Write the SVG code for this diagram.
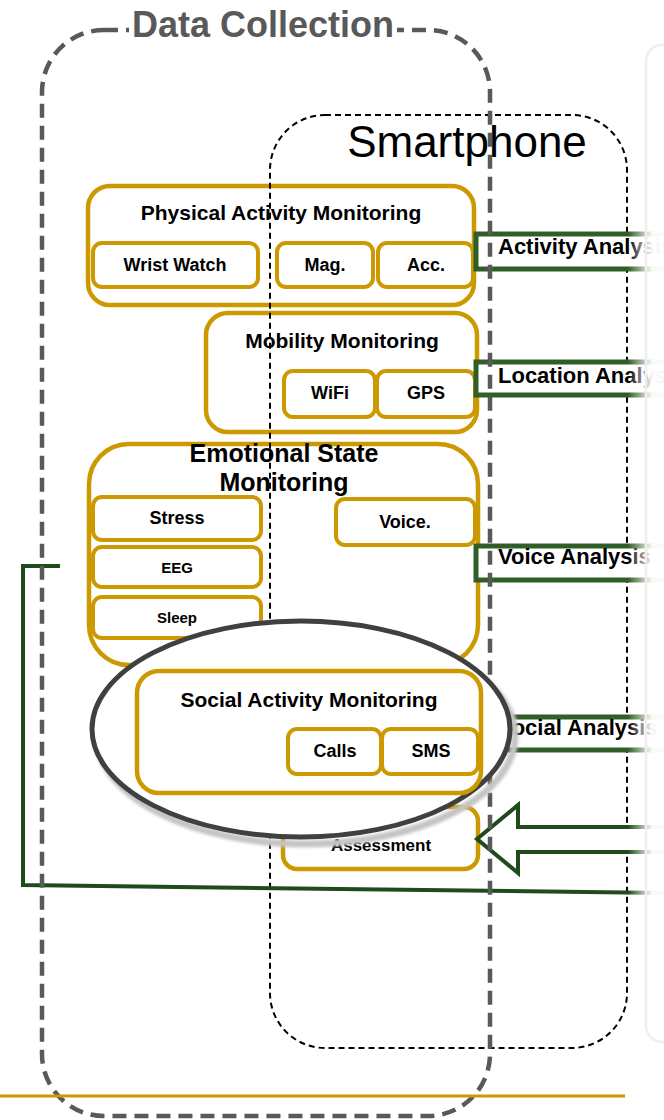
<svg xmlns="http://www.w3.org/2000/svg" width="664" height="1120" viewBox="0 0 664 1120">
  <style>
    text { font-family: "Liberation Sans", Arial, sans-serif; font-weight: bold; fill: #000; }
    .mid { text-anchor: middle; }
    .gold { fill: #fff; stroke: #CC9900; stroke-width: 4.5; }
    .goldsub { fill: #fff; stroke: #CC9900; stroke-width: 4; }
    .green { fill: #fff; stroke: #2F5F26; stroke-width: 5; }
    .flow { fill: none; stroke: #1F4A1C; stroke-width: 4; }
    .sub { font-size: 18px; }
    .small { font-size: 15px; }
    .title { font-size: 21px; }
    .ana { font-size: 22px; }
  </style>
  <defs>
    <linearGradient id="fade" x1="628" y1="0" x2="652" y2="0" gradientUnits="userSpaceOnUse">
      <stop offset="0" stop-color="#fff" stop-opacity="0"/>
      <stop offset="1" stop-color="#fff" stop-opacity="0.97"/>
    </linearGradient>
    <filter id="soft" x="-10%" y="-10%" width="120%" height="120%">
      <feGaussianBlur stdDeviation="1.5"/>
    </filter>
  </defs>

  <rect width="664" height="1120" fill="#fff"/>

  <!-- Monitoring blocks -->
  <g id="physical-activity">
    <rect class="gold" x="88" y="186" width="386" height="119" rx="22"/>
    <text class="mid title" x="281" y="220">Physical  Activity Monitoring</text>
    <g id="wrist-watch">
      <rect class="goldsub" x="93" y="243" width="165" height="44" rx="9"/>
      <text class="mid sub" x="175" y="271">Wrist Watch</text>
    </g>
    <g id="mag">
      <rect class="goldsub" x="277" y="243" width="96" height="44" rx="9"/>
      <text class="mid sub" x="325" y="271">Mag.</text>
    </g>
    <g id="acc">
      <rect class="goldsub" x="378" y="243" width="95" height="44" rx="9"/>
      <text class="mid sub" x="426" y="271">Acc.</text>
    </g>
  </g>

  <g id="mobility">
    <rect class="gold" x="206" y="313" width="271" height="119" rx="22"/>
    <text class="mid title" x="342" y="348">Mobility Monitoring</text>
    <g id="wifi">
      <rect class="goldsub" x="284" y="371" width="91" height="46" rx="9"/>
      <text class="mid sub" x="330" y="399">WiFi</text>
    </g>
    <g id="gps">
      <rect class="goldsub" x="377" y="371" width="98" height="46" rx="9"/>
      <text class="mid sub" x="426" y="399">GPS</text>
    </g>
  </g>

  <g id="emotional-state">
    <rect class="gold" x="89" y="444" width="389" height="221" rx="40"/>
    <text class="mid" font-size="25" x="284" y="462">Emotional State</text>
    <text class="mid" font-size="25" x="284" y="491">Monitoring</text>
    <g id="stress">
      <rect class="goldsub" x="93" y="497" width="168" height="43" rx="9"/>
      <text class="mid sub" x="177" y="524">Stress</text>
    </g>
    <g id="eeg">
      <rect class="goldsub" x="93" y="547" width="168" height="40" rx="9"/>
      <text class="mid small" x="177" y="573">EEG</text>
    </g>
    <g id="sleep">
      <rect class="goldsub" x="93" y="597" width="168" height="41" rx="9"/>
      <text class="mid small" x="177" y="623">Sleep</text>
    </g>
    <g id="voice">
      <rect class="goldsub" x="336" y="499" width="139" height="46" rx="9"/>
      <text class="mid sub" x="405" y="528">Voice.</text>
    </g>
  </g>

  <g id="assessment">
    <rect class="gold" x="283" y="807" width="195" height="62" rx="14"/>
    <text class="mid" font-size="17" x="381" y="851">Assessment</text>
  </g>

  <!-- Smartphone boundary -->
  <g id="smartphone">
    <rect x="270" y="115" width="357" height="933" rx="55" fill="none" stroke="#000" stroke-width="2" stroke-dasharray="6 4"/>
    <text x="467" y="157" text-anchor="middle" font-size="44" style="font-weight:normal">Smartphone</text>
  </g>

  <!-- Analysis blocks -->
  <g id="activity-analysis">
    <rect class="green" x="476" y="234" width="230" height="35"/>
    <text class="ana" x="498" y="254">Activity Analysis</text>
  </g>
  <g id="location-analysis">
    <rect class="green" x="476" y="362" width="230" height="33"/>
    <text class="ana" x="498" y="383">Location Analysis</text>
  </g>
  <g id="voice-analysis">
    <rect class="green" x="476" y="546" width="230" height="34"/>
    <text class="ana" x="498" y="564">Voice Analysis</text>
  </g>
  <g id="social-analysis">
    <rect class="green" x="476" y="717" width="230" height="33"/>
    <text class="ana" x="497" y="735">Social Analysis</text>
  </g>

  <!-- Connectors -->
  <g id="connectors">
    <path class="flow" style="fill:#fff" d="M477,839 L518,805 L518,827 L700,827 L700,852 L518,852 L518,873 Z"/>
    <path class="flow" d="M60,566 L23,566 L23,885 L664,893"/>
  </g>

  <!-- Data collection boundary -->
  <g id="data-collection">
    <rect x="42" y="30" width="448" height="1086" rx="62" fill="none" stroke="#595959" stroke-width="4.5" stroke-dasharray="14 8"/>
    <rect x="129" y="12" width="268" height="30" fill="#fff"/>
    <text x="263" y="37" text-anchor="middle" font-size="36" style="fill:#595959">Data Collection</text>
  </g>

  <!-- Social activity highlight -->
  <g id="social-activity">
    <ellipse cx="306" cy="736" rx="209" ry="108" fill="none" stroke="#c4c4c4" stroke-width="7" filter="url(#soft)"/>
    <ellipse cx="301" cy="729" rx="209" ry="108" fill="#fff" stroke="#404040" stroke-width="5"/>
    <rect class="gold" x="137" y="671" width="344" height="122" rx="22"/>
    <text class="mid title" x="309" y="707">Social Activity Monitoring</text>
    <g id="calls">
      <rect class="goldsub" x="288" y="729" width="93" height="45" rx="9"/>
      <text class="mid sub" x="335" y="757">Calls</text>
    </g>
    <g id="sms">
      <rect class="goldsub" x="382" y="729" width="96" height="45" rx="9"/>
      <text class="mid sub" x="431" y="757">SMS</text>
    </g>
  </g>

  <!-- Faded right-hand panel -->
  <rect x="628" y="0" width="36" height="1120" fill="url(#fade)"/>
  <rect x="646" y="45" width="60" height="997" rx="16" fill="none" stroke="#efefef" stroke-width="2.5"/>

  <line x1="0" y1="1096" x2="625" y2="1096" stroke="#CC9900" stroke-width="3"/>
</svg>
